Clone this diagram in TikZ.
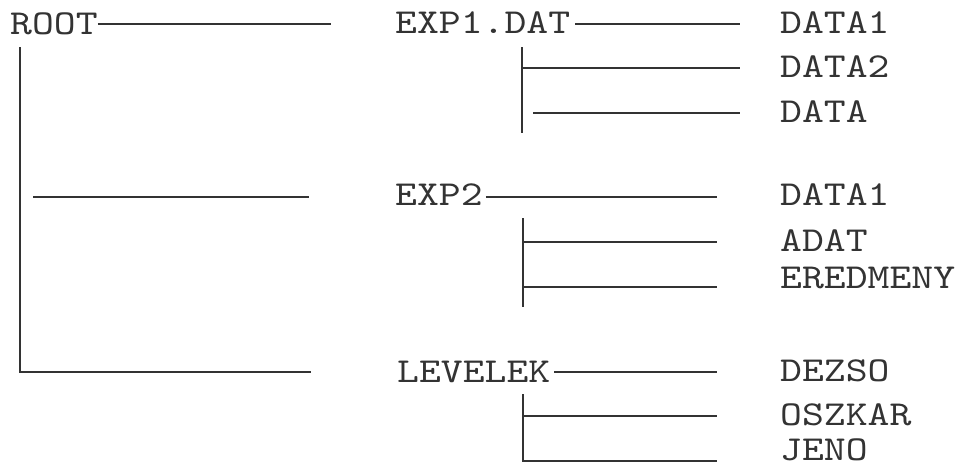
\documentclass[tikz,border=0pt]{standalone}
\usepackage{fontspec}
\newfontfamily\treefont[Extension=.otf, FakeStretch=1.19]{lmmono10-regular}
\definecolor{ink}{gray}{0.2}
\begin{document}
\begin{tikzpicture}[x=1pt, y=-1pt,
  lbl/.style={anchor=base west, inner sep=0pt, text=ink,
              font=\treefont\fontsize{35}{40}\selectfont},
  wire/.style={draw=ink, line width=1.3pt}]
\useasboundingbox[fill=white] (0,0) rectangle (962,474);

% directory names
\node[lbl] (root) at (10,34)  {ROOT};
\node[lbl] (exp1) at (395,33) {EXP1.DAT};
\node[lbl] (exp2) at (395,205) {EXP2};
\node[lbl] (lev)  at (397,382) {LEVELEK};

% file names
\node[lbl] (d11) at (780,33)  {DATA1};
\node[lbl] (d12) at (780,77)  {DATA2};
\node[lbl] (d13) at (780,122) {DATA};
\node[lbl] (d21) at (780,205) {DATA1};
\node[lbl] (d22) at (780,251) {ADAT};
\node[lbl] (d23) at (780,288) {EREDMENY};
\node[lbl] (d31) at (780,381) {DEZSO};
\node[lbl] (d32) at (780,425) {OSZKAR};
\node[lbl] (d33) at (780,460) {JENO};

% branch end points
\coordinate (rootR) at (331,24);
\coordinate (trunkT) at (20,47);
\coordinate (trunkB) at (20,372);
\coordinate (trunkBR) at (311,372);
\coordinate (midL) at (33,197);
\coordinate (midR) at (309,197);

\coordinate (e1R) at (740,24);
\coordinate (e1T) at (522,47);
\coordinate (e1B) at (522,133);
\coordinate (e1a) at (522,68);
\coordinate (e1aR) at (740,68);
\coordinate (e1b) at (533,113);
\coordinate (e1bR) at (740,113);

\coordinate (e2R) at (717,197);
\coordinate (e2T) at (523,218);
\coordinate (e2B) at (523,307);
\coordinate (e2a) at (523,242);
\coordinate (e2aR) at (717,242);
\coordinate (e2b) at (523,287);
\coordinate (e2bR) at (717,287);

\coordinate (lvR) at (717,372);
\coordinate (lvT) at (523,394);
\coordinate (lvB) at (523,461);
\coordinate (lvBR) at (717,461);
\coordinate (lva) at (523,416);
\coordinate (lvaR) at (717,416);

% ROOT level
\draw[wire] (root.base east |- rootR) -- (rootR);
\draw[wire] (trunkT) -- (trunkB) -- (trunkBR);
\draw[wire] (midL) -- (midR);

% EXP1.DAT
\draw[wire] ([xshift=5pt]exp1.base east |- e1R) -- (e1R);
\draw[wire] (e1T) -- (e1B);
\draw[wire] (e1a) -- (e1aR);
\draw[wire] (e1b) -- (e1bR);

% EXP2
\draw[wire] ([xshift=3pt]exp2.base east |- e2R) -- (e2R);
\draw[wire] (e2T) -- (e2B);
\draw[wire] (e2a) -- (e2aR);
\draw[wire] (e2b) -- (e2bR);

% LEVELEK
\draw[wire] ([xshift=4pt]lev.base east |- lvR) -- (lvR);
\draw[wire] (lvT) -- (lvB) -- (lvBR);
\draw[wire] (lva) -- (lvaR);
\end{tikzpicture}
\end{document}
